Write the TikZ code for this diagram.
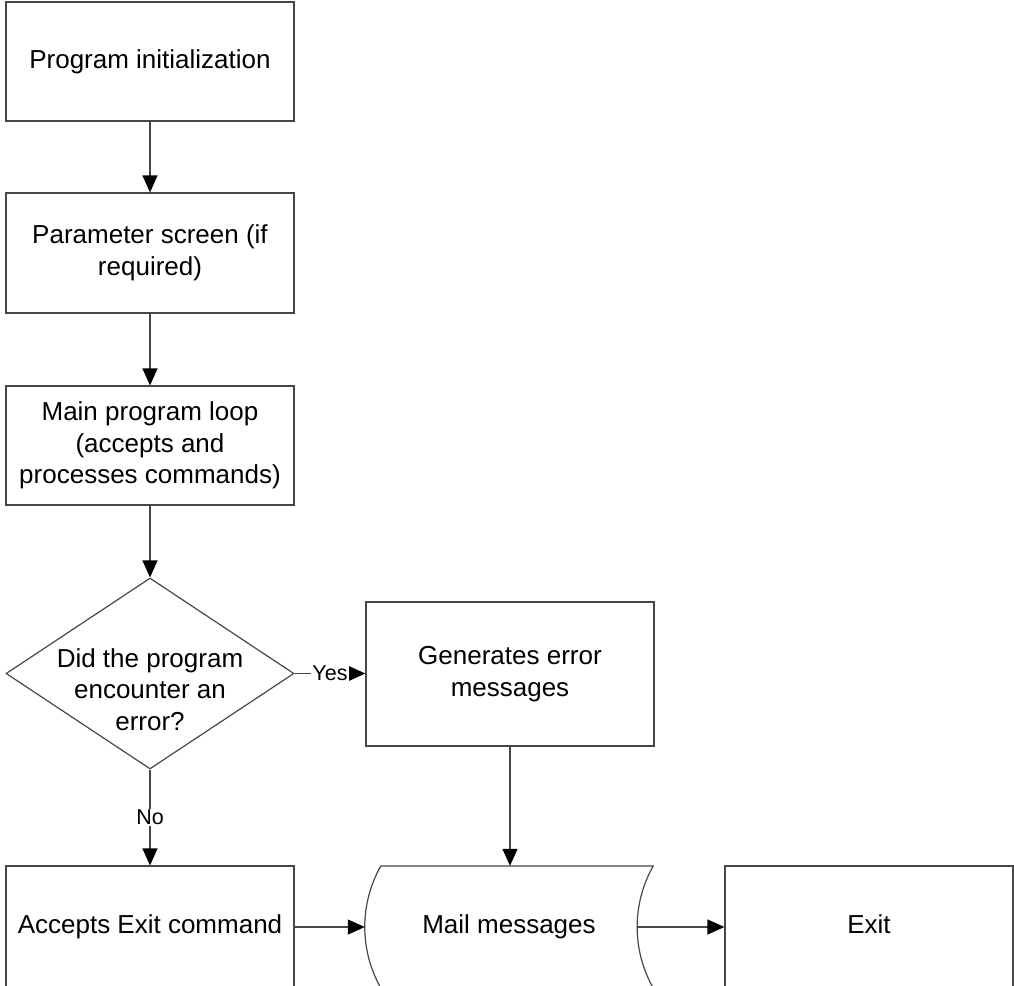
\documentclass[tikz,border=0pt]{standalone}
\usepackage{fontspec}
\setmainfont{Liberation Sans}
\usetikzlibrary{shapes.geometric,arrows.meta,calc}
\definecolor{edge}{rgb}{0.28,0.28,0.28}
\tikzset{
  flowbox/.style={draw=edge, line width=1.2pt, rectangle, minimum width=288pt,
    inner sep=0pt, align=center, font=\fontsize{26}{31.5}\selectfont},
  flowtext/.style={align=center, inner sep=0pt, font=\fontsize{26}{31.5}\selectfont},
  flowline/.style={draw=edge, line width=1.2pt, -{Triangle[length=17pt,width=15pt,color=black,fill=black]}},
  branchlabel/.style={fill=white, inner sep=1pt, font=\fontsize{21.5}{25}\selectfont}
}
\begin{document}
\begin{tikzpicture}[x=1pt,y=-1pt]
\useasboundingbox (0,0) rectangle (1014,985);

% main column
\node[flowbox, minimum height=119pt] (init)  at (150,61.5)  {Program initialization};
\node[flowbox, minimum height=120pt] (param) at (150,253)   {Parameter screen (if\\required)};
\node[flowbox, minimum height=119pt] (loop)  at (150,445.5) {Main program loop\\(accepts and\\processes commands)};
\node[draw=edge, line width=1.2pt, diamond, minimum width=288pt, minimum height=191pt,
      inner sep=0pt] (dec) at (150,673.5) {};
\node[flowtext] (dectext) at ($(dec.center)+(0,16)$) {Did the program\\encounter an\\error?};

% error branch
\node[flowbox, minimum height=144pt] (err) at (510,674) {Generates error\\messages};

% bottom row
\node[flowbox, minimum height=122pt] (accept) at (150,927) {Accepts Exit command};
\node[flowtext, minimum width=288pt, minimum height=122pt] (mail) at (509,927) {Mail messages};
\node[flowbox, minimum height=122pt] (exit) at (869,927) {Exit\vphantom{p}};

% stored-data outline of the mail node: two circular arcs bulging left
\coordinate (mailout) at ($(mail.east)+(-16,0)$);
\draw[edge, line width=1.2pt]
  ($(mail.west)+(16,61)$) .. controls ($(mail.west)+(-5.4,23.1)$) and ($(mail.west)+(-5.4,-23.1)$)
  .. ($(mail.west)+(16,-61)$) -- ($(mail.east)+(0,-61)$)
  .. controls ($(mail.east)+(-21.4,-23.1)$) and ($(mail.east)+(-21.4,23.1)$)
  .. ($(mail.east)+(0,61)$);

% connectors
\draw[flowline] (init) -- (param);
\draw[flowline] (param) -- (loop);
\draw[flowline] (loop) -- (dec.north);
\draw[flowline] (dec.east) -- node[branchlabel] {Yes} (err.west |- dec.east);
\draw[flowline] (dec.south) -- node[branchlabel] {No} (accept.north);
\draw[flowline] (err.south) -- (err.south |- mail.north);
\draw[flowline] (accept.east) -- (mail.west);
\draw[flowline] (mailout) -- (exit.west);
\end{tikzpicture}
\end{document}
